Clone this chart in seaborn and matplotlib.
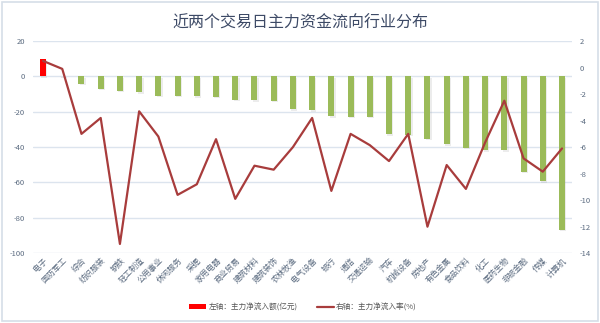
import numpy as np
import pandas as pd
import matplotlib
matplotlib.use("Agg")
import matplotlib.pyplot as plt
import matplotlib.patheffects as pe
from matplotlib.patches import Patch, Rectangle
from matplotlib.lines import Line2D
import seaborn as sns

categories = ["电子", "国防军工", "综合", "纺织服装", "钢铁", "轻工制造", "公用事业", "休闲服务",
              "采掘", "家用电器", "商业贸易", "建筑材料", "建筑装饰", "农林牧渔", "电气设备", "银行",
              "通信", "交通运输", "汽车", "机械设备", "房地产", "有色金属", "食品饮料", "化工",
              "医药生物", "非银金融", "传媒", "计算机"]
inflow = [10.0, 0.3, -4.1, -7.0, -8.3, -8.9, -11.1, -11.0,
          -11.3, -11.7, -13.2, -13.6, -13.9, -18.6, -19.2, -22.6,
          -23.0, -23.0, -32.8, -33.1, -35.4, -38.4, -40.3, -41.8,
          -41.8, -54.0, -59.3, -86.6]
rate = [0.5, -0.1, -5.0, -3.8, -13.3, -3.3, -5.2, -9.6,
        -8.8, -5.4, -9.9, -7.4, -7.7, -6.0, -3.8, -9.3,
        -5.0, -5.85, -7.05, -5.0, -12.0, -7.35, -9.15, -5.65,
        -2.5, -6.85, -7.85, -6.1]
left_ticks = [20, 0, -20, -40, -60, -80, -100]
right_ticks = [2, 0, -2, -4, -6, -8, -10, -12, -14]

title = "近两个交易日主力资金流向行业分布"
legend_left = "左轴：主力净流入额(亿元)"
legend_right = "右轴：主力净流入率(%)"

sns.set_style("white")
plt.rcParams["font.family"] = ["Noto Sans CJK SC", "DejaVu Sans"]
plt.rcParams["axes.unicode_minus"] = False

GREEN = "#9bbb59"
RED = "#ff0000"
LINE = "#a83c3c"
TICK = "#5b6b80"
GRID = "#dce4ee"

df = pd.DataFrame({"cat": categories, "inflow": inflow, "rate": rate})
colors = [RED if v > 0 else GREEN for v in inflow]

fig = plt.figure(figsize=(6.0, 3.23), dpi=100)
ax = fig.add_axes([0.0557, 0.216, 0.897, 0.657])

sns.barplot(data=df, x="cat", y="inflow", hue="cat", palette=colors, legend=False,
            width=0.31, ax=ax, saturation=1)
for p in ax.patches:
    p.set_path_effects([pe.SimplePatchShadow(offset=(1.0, -1.0), shadow_rgbFace="#999999", alpha=0.18),
                        pe.Normal()])
    p.set_linewidth(0)

ax.set_ylim(-100, 20)
ax.set_xlim(-0.5, len(categories) - 0.5)
ax.set_yticks(left_ticks)
ax.set_yticklabels([str(t) for t in left_ticks])
ax.yaxis.grid(True, color=GRID, linewidth=1.0)
ax.set_axisbelow(True)
ax.set_xlabel("")
ax.set_ylabel("")
for s in ax.spines.values():
    s.set_visible(False)
ax.tick_params(axis="y", length=0, labelsize=5.5, labelcolor=TICK, pad=6)
ax.tick_params(axis="x", length=0, labelsize=5.8, labelcolor=TICK, pad=2)
ax.set_xticks(range(len(categories)))
ax.set_xticklabels(categories, rotation=45, ha="right", va="top", rotation_mode="anchor")

ax2 = ax.twinx()
sns.lineplot(x=np.arange(len(categories)), y=rate, ax=ax2, color=LINE, linewidth=1.6, sort=False)
ax2.set_ylim(-14, 2)
ax2.set_yticks(right_ticks)
ax2.set_yticklabels([str(t) for t in right_ticks])
ax2.set_xlim(-0.5, len(categories) - 0.5)
ax2.grid(False)
ax2.set_ylabel("")
for s in ax2.spines.values():
    s.set_visible(False)
ax2.tick_params(axis="y", length=0, labelsize=5.5, labelcolor=TICK, pad=6)

fig.text(0.5, 0.929, title, ha="center", va="center", fontsize=11.5, color="#3d4a66")

handles = [Patch(facecolor=RED, edgecolor="none"),
           Line2D([0], [0], color=LINE, linewidth=1.6)]
fig.legend(handles, [legend_left, legend_right], loc="center", bbox_to_anchor=(0.505, 0.048),
           ncol=2, frameon=False, fontsize=5.5, labelcolor="#555555", handlelength=2.2,
           handleheight=0.6, columnspacing=2.5, handletextpad=0.3)

fig.patches.append(Rectangle((0.003, 0.006), 0.994, 0.988, transform=fig.transFigure,
                             fill=False, edgecolor="#d6dee8", linewidth=1.2))

fig.savefig("out.png", dpi=100, facecolor="white")
